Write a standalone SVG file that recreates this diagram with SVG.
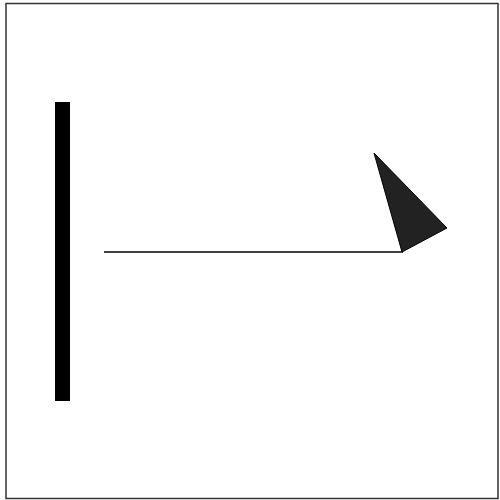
<svg xmlns="http://www.w3.org/2000/svg" width="500" height="500" viewBox="0 0 500 500">
<style>
.frame{fill:none;stroke:#333;stroke-width:1.5}
.bar{fill:#000}
.line{stroke:#000;stroke-width:1.5;fill:none}
.tri{fill:#222;stroke:#000;stroke-width:1}
</style>
<rect width="500" height="500" fill="#fff"/>
<rect class="frame" x="6" y="3.5" width="492" height="495"/>
<g id="bar"><rect class="bar" x="55" y="102" width="15" height="299"/></g>
<g id="connectors"><line class="line" x1="104" y1="252" x2="403" y2="252"/></g>
<g id="triangle"><polygon class="tri" points="374,153 447,228 402,252"/></g>
</svg>
